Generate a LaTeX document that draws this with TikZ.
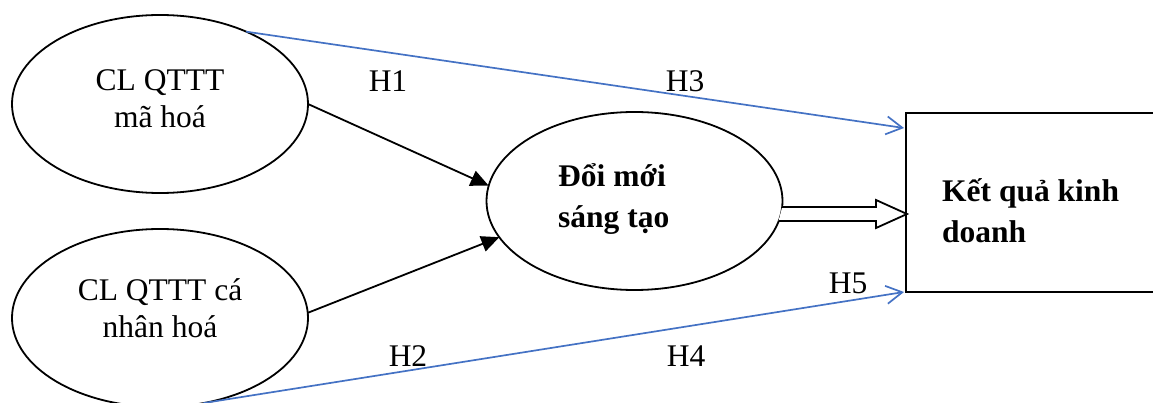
\documentclass[tikz,border=0pt]{standalone}
\usepackage{fontspec}
\setmainfont{Liberation Serif}
\usetikzlibrary{arrows.meta,calc,shapes.geometric}
\definecolor{lineblue}{RGB}{68,114,196}
\begin{document}
\begin{tikzpicture}[x=1pt,y=-1pt,
  oval/.style={ellipse, draw, line width=1.8pt, minimum width=296pt, minimum height=178pt, inner sep=0pt, outer sep=0pt},
  txt/.style={font=\fontsize{31.5}{37}\selectfont, inner sep=0pt, align=center},
  btxt/.style={font=\fontsize{31.5}{41.5}\selectfont\bfseries, inner sep=0pt, align=left},
  lbl/.style={font=\fontsize{31.5}{37}\selectfont, inner sep=0pt},
  blk/.style={line width=1.8pt, -{Triangle[length=18pt,width=16pt]}},
  blu/.style={line width=1.7pt, draw=lineblue, -{Straight Barb[length=16pt,width=18pt]}},
  dbl/.style={line width=1.8pt, fill=white, line join=miter}]
\useasboundingbox (0,0) rectangle (1153,403);
% nodes
\node[oval] (e1) at (160,104) {};
\node[oval] (e2) at (160,318) {};
\node[oval] (mid) at (634.5,201) {};
\node[draw, line width=2.2pt, minimum width=270pt, minimum height=179pt, inner sep=0pt, outer sep=0pt, anchor=north west] (box) at (906,113) {};
% texts
\node[txt] (t1) at (160,98.5) {CL QTTT\\mã hoá};
\node[txt] (t2) at (160,308.5) {CL QTTT cá\\nhân hoá};
\node[btxt, anchor=west] (t3) at (558,199) {Đổi mới\\sáng tạo};
\node[btxt, anchor=west] (t4) at (942,210.5) {Kết quả kinh\\doanh};
% labels
\node[lbl, anchor=base] (h1) at (388,92) {H1};
\node[lbl, anchor=base] (h3) at (685,92) {H3};
\node[lbl, anchor=base] (h2) at (408,366) {H2};
\node[lbl, anchor=base] (h4) at (686,366) {H4};
\node[lbl, anchor=base] (h5) at (848,293) {H5};
% connectors
\draw[blk] (e1.east) -- (mid.174);
\draw[blk] (e2.2) -- (mid.195);
\coordinate (b3) at ($(box.north west)+(-2,15)$);
\coordinate (b4) at ($(box.south west)+(-2,0)$);
\draw[blu] (e1.40) -- (b3);
\draw[blu] (e2.297) -- (b4);
\coordinate (dt) at ($(box.west)+(1,11.5)$);
\draw[dbl] ($(mid.east)+(-0.3,6)$) -- ($(dt)+(-31,-7)$) -- ($(dt)+(-31,-14)$) -- (dt)
  -- ($(dt)+(-31,14)$) -- ($(dt)+(-31,7)$) -- ($(mid.east)+(-4,20)$);
\end{tikzpicture}
\end{document}
